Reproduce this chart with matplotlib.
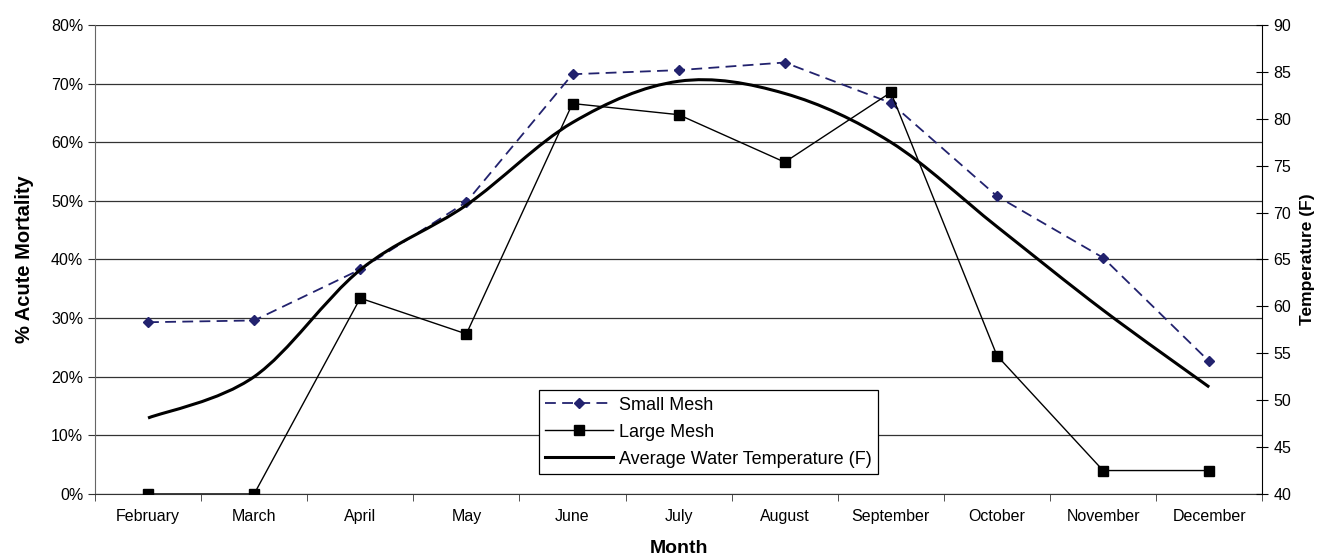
import numpy as np
import matplotlib.pyplot as plt
from matplotlib.path import Path
from matplotlib.patches import PathPatch
from matplotlib.lines import Line2D
from matplotlib.ticker import PercentFormatter

plt.rcParams['font.family'] = ['Liberation Sans', 'DejaVu Sans']

months = ['February', 'March', 'April', 'May', 'June', 'July',
          'August', 'September', 'October', 'November', 'December']
small_mesh = [0.293, 0.296, 0.383, 0.498, 0.716, 0.723, 0.736, 0.667, 0.508, 0.403, 0.226]
large_mesh = [0.0, 0.0, 0.334, 0.273, 0.666, 0.647, 0.566, 0.685, 0.236, 0.040, 0.040]
water_temp = [48.1, 52.5, 63.9, 70.8, 79.6, 84.0, 82.7, 77.5, 68.5, 59.6, 51.4]

navy = '#22226e'

def smooth_path(xs, ys):
    # Bezier path through the points (like a spreadsheet "smoothed line")
    pts = np.column_stack([xs, ys]).astype(float)
    n = len(pts)
    verts = [pts[0]]
    codes = [Path.MOVETO]
    for i in range(n - 1):
        p0 = pts[max(i - 1, 0)]
        p1 = pts[i]
        p2 = pts[i + 1]
        p3 = pts[min(i + 2, n - 1)]
        c1 = p1 + (p2 - p0) / 6.0
        c2 = p2 - (p3 - p1) / 6.0
        verts += [c1, c2, p2]
        codes += [Path.CURVE4] * 3
    return Path(verts, codes)

fig = plt.figure(figsize=(13.19, 5.59), dpi=100)
ax = fig.add_axes([0.072, 0.1163, 0.885, 0.839])
ax2 = ax.twinx()

x = np.arange(len(months))

ax.set_axisbelow(True)
ax.yaxis.grid(True, color='#333333', linewidth=0.9)
ax.plot(x, small_mesh, color=navy, linestyle=(0, (6, 3.5)), linewidth=1.3,
        marker='D', markersize=5.5, markerfacecolor=navy, markeredgecolor=navy, zorder=4)
ax.plot(x, large_mesh, color='black', linewidth=1.0,
        marker='s', markersize=7, markerfacecolor='black', zorder=5)

ax2.add_patch(PathPatch(smooth_path(x, water_temp), facecolor='none',
                        edgecolor='black', linewidth=2.2, zorder=3))

ax.set_xlim(-0.5, len(months) - 0.5)
ax.set_ylim(0, 0.8)
ax2.set_ylim(40, 90)
ax.set_yticks(np.arange(0, 0.81, 0.1))
ax.yaxis.set_major_formatter(PercentFormatter(1.0, decimals=0))
ax2.set_yticks(np.arange(40, 91, 5))

ax.set_xticks(x)
ax.set_xticklabels(months)
ax.set_xticks(np.arange(-0.5, len(months)), minor=True)
ax.tick_params(axis='x', which='major', length=0, pad=11, labelsize=11.5)
ax.tick_params(axis='x', which='minor', length=5, color='#333333')
ax.tick_params(axis='y', length=5, labelsize=11.5, color='#333333')
ax2.tick_params(axis='y', direction='inout', length=9, labelsize=11.5)

for s in ['top']:
    ax.spines[s].set_visible(False)
    ax2.spines[s].set_visible(False)
ax.spines['left'].set_color('#666666')
ax.spines['bottom'].set_color('#333333')
ax2.spines['left'].set_visible(False)
ax2.spines['bottom'].set_visible(False)
ax.spines['right'].set_visible(False)

ax.set_xlabel('Month', fontsize=14, fontweight='bold', labelpad=11)
ax.set_ylabel('% Acute Mortality', fontsize=14.5, fontweight='bold', labelpad=12)
ax2.set_ylabel('Temperature (F)', fontsize=12.5, fontweight='bold', labelpad=6)

handles = [
    Line2D([], [], color=navy, linestyle=(0, (6, 3.5)), linewidth=1.3,
           marker='D', markersize=5.5, markerfacecolor=navy),
    Line2D([], [], color='black', linewidth=1.0, marker='s', markersize=7),
    Line2D([], [], color='black', linewidth=2.2),
]
labels = ['Small Mesh', 'Large Mesh', 'Average Water Temperature (F)']
leg = ax2.legend(handles, labels, loc='lower left', bbox_to_anchor=(0.380, 0.043),
                 fontsize=13, frameon=True, fancybox=False, framealpha=1,
                 edgecolor='black', handlelength=3.8, handletextpad=0.3,
                 borderpad=0.35, labelspacing=0.55, borderaxespad=0)
leg.get_frame().set_linewidth(0.9)

fig.savefig('out.png', dpi=100)
